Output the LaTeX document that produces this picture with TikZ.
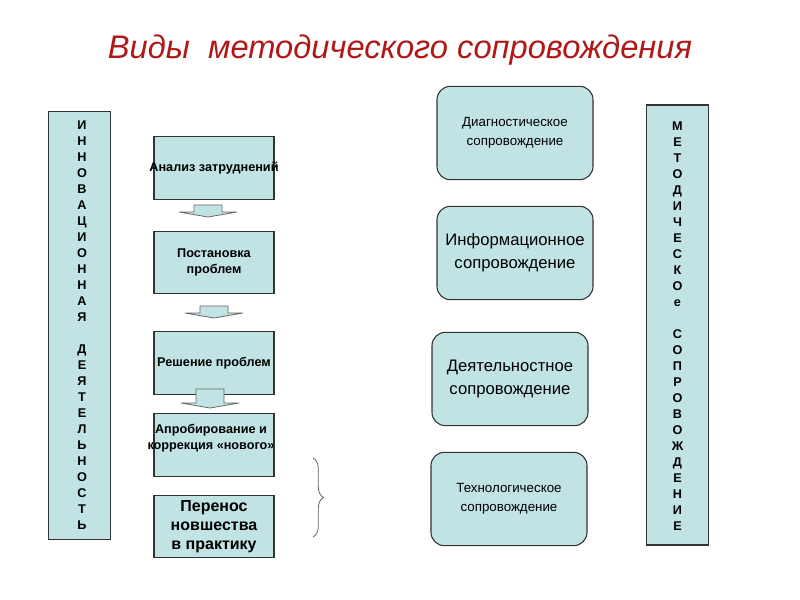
\documentclass[tikz,border=0pt]{standalone}
\usepackage{fontspec}
\setmainfont{Liberation Sans}
\usetikzlibrary{decorations.pathreplacing}
\definecolor{boxfill}{HTML}{C2E3E3}
\definecolor{titlered}{HTML}{B01818}
\tikzset{
  sq/.style={draw=black!80,fill=boxfill,line width=0.8pt,minimum width=90pt,minimum height=47pt,inner sep=0pt,font=\bfseries\fontsize{9.5}{12}\selectfont,align=center},
  rb/.style={draw=black!80,fill=boxfill,line width=0.8pt,rounded corners=10pt,minimum width=117pt,minimum height=70pt,align=center},
  vbox/.style={draw=black!80,fill=boxfill,line width=0.8pt,minimum width=47pt,inner sep=0pt},
  darr/.style={draw=black!60,fill=boxfill,line width=0.6pt},
  vtxt/.style={font=\bfseries\fontsize{9.5}{12}\selectfont,align=center}
}
\newcommand{\downarr}[4]{% name, cx, top, bottom
  \path[darr] (#2-14,#3) -- (#2+14,#3) -- (#2+14,#4-5) -- (#2+29,#4-5) -- (#2,#4) -- (#2-29,#4-5) -- (#2-14,#4-5) -- cycle;
  \coordinate (#1) at (#2,#4);}
\begin{document}
\begin{tikzpicture}[x=0.75pt,y=-0.75pt]
\useasboundingbox (0,0) rectangle (800,600);
\node[text=titlered,font=\itshape\fontsize{24.5}{28}\selectfont] (title) at (400,50) {Виды \ методического сопровождения};
% left vertical
\node[vbox,minimum height=321pt] (lv) at (79.5,325.5) {};
\node[vtxt] (lvt) at (82,325) {И\\Н\\Н\\О\\В\\А\\Ц\\И\\О\\Н\\Н\\А\\Я\\[12pt]Д\\Е\\Я\\Т\\Е\\Л\\Ь\\Н\\О\\С\\Т\\Ь};
% right vertical
\node[vbox,minimum height=330pt] (rv) at (677.5,325) {};
\node[vtxt] (rvt) at (677.5,326) {М\\Е\\Т\\О\\Д\\И\\Ч\\Е\\С\\К\\О\\е\\[12pt]С\\О\\П\\Р\\О\\В\\О\\Ж\\Д\\Е\\Н\\И\\Е};
% steps
\node[sq] (a) at (214,168) {};
\node[font=\bfseries\fontsize{9.5}{12}\selectfont] (at) at (214,168) {Анализ затруднений};
\node[sq] (b) at (214,262.5) {Постановка\\проблем};
\node[sq] (c) at (214,363) {};
\node[font=\bfseries\fontsize{9.5}{12}\selectfont] (ct) at (214,363) {Решение проблем};
\node[sq] (d) at (214,445) {};
\node[font=\bfseries\fontsize{9.5}{12}\selectfont,align=center] (dt) at (211,438) {Апробирование и\\коррекция «нового»};
\node[sq,font=\bfseries\fontsize{12}{14.5}\selectfont] (e) at (214,526.5) {Перенос\\новшества\\в практику};
\downarr{ar1}{208}{205}{217}
\downarr{ar2}{214}{306}{318}
\downarr{ar3}{210}{389}{408}
\draw[black!60,line width=0.6pt,decorate,decoration={brace,amplitude=8pt}] (313,458) coordinate (br1) -- (313,537) coordinate (br2);
% right boxes
\node[rb,font=\fontsize{10}{14}\selectfont] (r1) at (515,133) {Диагностическое\\ сопровождение};
\node[rb,font=\fontsize{12.5}{17}\selectfont] (r2) at (515,253) {Информационное\\ сопровождение};
\node[rb,font=\fontsize{12.5}{17}\selectfont] (r3) at (510,379) {Деятельностное\\ сопровождение};
\node[rb,font=\fontsize{10}{14}\selectfont] (r4) at (509,499) {Технологическое\\ сопровождение};
\end{tikzpicture}
\end{document}
